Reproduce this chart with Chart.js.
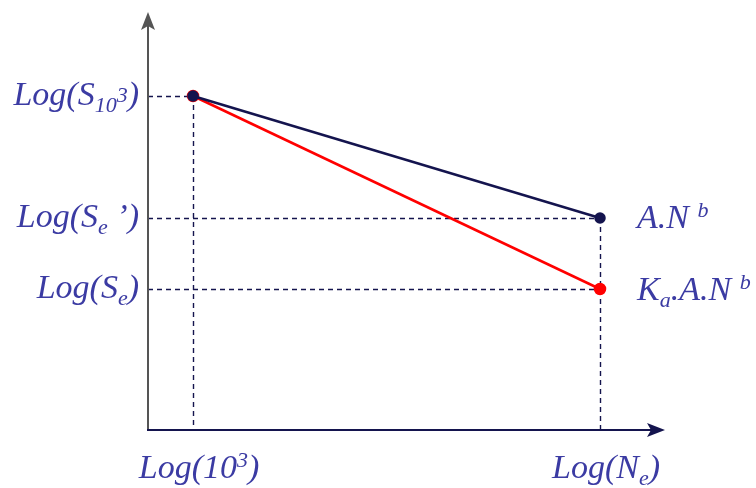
<!DOCTYPE html>
<html>
<head>
<meta charset="utf-8">
<script src="https://cdn.jsdelivr.net/npm/chart.js@4/dist/chart.umd.min.js"></script>
<style>
  html, body { margin: 0; padding: 0; background: #fff; }
  #wrap { width: 756px; height: 488px; }
</style>
</head>
<body>
<div id="wrap"><canvas id="fatigueChart"></canvas></div>
<script>
// x positions: log(10^3) and log(Ne)
const cycles = [3, 6];
// log stress values
const unmodified = [3.34, 2.12];   // A.N^b
const modified = [3.34, 1.41];     // Ka.A.N^b

// labels as [text, mode] parts; mode 0 normal, 1 sub, 2 sup, 3 small raised
const xTickLabels = [
    [['Log(10', 0], ['3', 2], [')', 0]],
    [['Log(N', 0], ['e', 1], [')', 0]]
];
const yTicks = [3.34, 2.12, 1.41];
const yTickLabels = [
    [['Log(S', 0], ['10', 1], ['3', 3], [')', 0]],
    [['Log(S', 0], ['e', 1], [' \u2019)', 0]],
    [['Log(S', 0], ['e', 1], [')', 0]]
];
const seriesLabels = [
    [['A.N ', 0], ['b', 2]],
    [['K', 0], ['a', 1], ['.A.N ', 0], ['b', 2]]
];

const textColor = '#3b3ba3';
const navy = '#14144e';
const FONT = "'Liberation Serif', 'DejaVu Serif', serif";

function drawParts(ctx, parts, x, y, align) {
    const base = 34;
    const fontFor = m => 'italic ' + (m === 0 ? base : Math.round(base * 0.66)) + 'px ' + FONT;
    let w = 0;
    parts.forEach(([t, m]) => { ctx.font = fontFor(m); w += ctx.measureText(t).width; });
    let cx = align === 'right' ? x - w : align === 'center' ? x - w / 2 : x;
    ctx.textBaseline = 'alphabetic';
    ctx.textAlign = 'left';
    parts.forEach(([t, m]) => {
        ctx.font = fontFor(m);
        const dy = m === 1 ? base * 0.2 : m === 2 ? -base * 0.33 : m === 3 ? -base * 0.08 : 0;
        ctx.fillText(t, cx, y + dy);
        cx += ctx.measureText(t).width;
    });
}

const axesPlugin = {
    id: 'axesPlugin',
    beforeDatasetsDraw(chart) {
        const ctx = chart.ctx;
        const xs = chart.scales.x, ys = chart.scales.y;
        const x0 = xs.left, y0 = ys.bottom;
        ctx.save();
        // dashed guides
        ctx.strokeStyle = navy;
        ctx.lineWidth = 1.4;
        ctx.setLineDash([5, 4]);
        const guideX = [cycles[0], cycles[1], cycles[1]];
        yTicks.forEach((v, i) => {
            const py = Math.round(ys.getPixelForValue(v)) + 0.5;
            ctx.beginPath();
            ctx.moveTo(x0, py);
            ctx.lineTo(xs.getPixelForValue(guideX[i]), py);
            ctx.stroke();
        });
        cycles.forEach((v, i) => {
            const px = Math.round(xs.getPixelForValue(v)) + 0.5;
            ctx.beginPath();
            ctx.moveTo(px, ys.getPixelForValue(Math.max(unmodified[i], modified[i])));
            ctx.lineTo(px, y0);
            ctx.stroke();
        });
        ctx.setLineDash([]);
        // y axis
        ctx.strokeStyle = '#555555';
        ctx.fillStyle = '#555555';
        ctx.lineWidth = 2;
        ctx.beginPath();
        ctx.moveTo(x0, y0);
        ctx.lineTo(x0, ys.top + 8);
        ctx.stroke();
        ctx.beginPath();
        ctx.moveTo(x0, ys.top);
        ctx.lineTo(x0 + 7, ys.top + 18);
        ctx.lineTo(x0, ys.top + 14);
        ctx.lineTo(x0 - 7, ys.top + 18);
        ctx.closePath();
        ctx.fill();
        // x axis
        ctx.strokeStyle = navy;
        ctx.fillStyle = navy;
        ctx.beginPath();
        ctx.moveTo(x0 - 1, y0);
        ctx.lineTo(xs.right - 8, y0);
        ctx.stroke();
        ctx.beginPath();
        ctx.moveTo(xs.right, y0);
        ctx.lineTo(xs.right - 18, y0 - 7);
        ctx.lineTo(xs.right - 14, y0);
        ctx.lineTo(xs.right - 18, y0 + 7);
        ctx.closePath();
        ctx.fill();
        ctx.restore();
    },
    afterDraw(chart) {
        const ctx = chart.ctx;
        const xs = chart.scales.x, ys = chart.scales.y;
        ctx.save();
        ctx.fillStyle = textColor;
        yTicks.forEach((v, i) => {
            drawParts(ctx, yTickLabels[i], xs.left - 9, ys.getPixelForValue(v) + 9, 'right');
        });
        cycles.forEach((v, i) => {
            drawParts(ctx, xTickLabels[i], xs.getPixelForValue(v) + 6, ys.bottom + 48, 'center');
        });
        const endX = xs.getPixelForValue(cycles[1]) + 37;
        drawParts(ctx, seriesLabels[0], endX, ys.getPixelForValue(unmodified[1]) + 10, 'left');
        drawParts(ctx, seriesLabels[1], endX, ys.getPixelForValue(modified[1]) + 11, 'left');
        ctx.restore();
    }
};

new Chart(document.getElementById('fatigueChart'), {
    type: 'scatter',
    data: {
        datasets: [
            {
                label: 'A.N^b',
                data: cycles.map((x, i) => ({ x, y: unmodified[i] })),
                showLine: true,
                borderColor: navy,
                backgroundColor: navy,
                borderWidth: 2.5,
                pointRadius: 4.5,
                pointHoverRadius: 4.5
            },
            {
                label: 'Ka.A.N^b',
                data: cycles.map((x, i) => ({ x, y: modified[i] })),
                showLine: true,
                borderColor: '#ff0000',
                backgroundColor: '#ff0000',
                borderWidth: 2.5,
                pointRadius: 5,
                pointHoverRadius: 5
            }
        ]
    },
    options: {
        responsive: true,
        maintainAspectRatio: false,
        animation: false,
        layout: { padding: { left: 148, right: 91, top: 12, bottom: 58 } },
        plugins: { legend: { display: false }, tooltip: { enabled: false } },
        scales: {
            x: { type: 'linear', display: false, min: 2.668, max: 6.479 },
            y: { type: 'linear', display: false, min: 0, max: 4.18 }
        }
    },
    plugins: [axesPlugin]
});
</script>
</body>
</html>
